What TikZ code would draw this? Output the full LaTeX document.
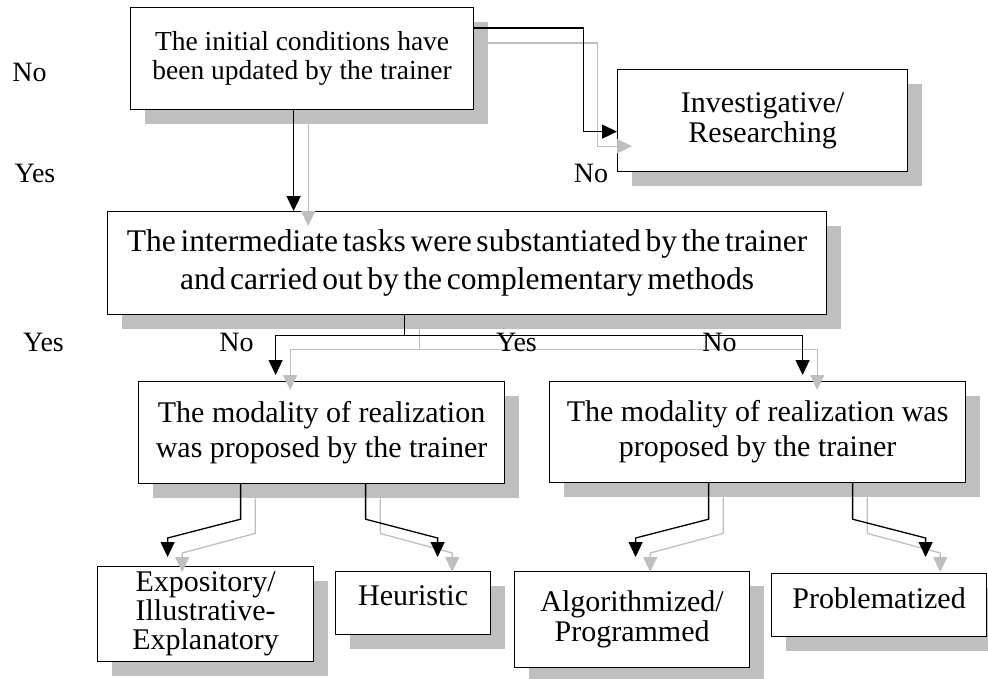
\documentclass[tikz,border=0pt]{standalone}
\usepackage{fontspec}
\setmainfont{Liberation Serif}
\newfontfamily\tightserif{Liberation Serif}[WordSpace=0.6]
\usetikzlibrary{arrows.meta,calc}
\definecolor{shgray}{RGB}{191,191,191}
\tikzset{
  box/.style={draw=black, fill=white, line width=1.2pt, inner sep=0pt, anchor=north west, align=center},
  shbox/.style={fill=shgray, draw=none, inner sep=0pt, anchor=north west},
  conn/.style={line width=1.3pt, draw=black},
  connarr/.style={conn, -{Triangle[width=14pt,length=15pt]}},
  gconn/.style={line width=1.3pt, draw=shgray},
  gconnarr/.style={gconn, -{Triangle[width=14pt,length=15pt]}},
  lbl/.style={font=\fontsize{28}{30}\selectfont, inner sep=0pt},
}
\newcommand\mkbox[7][]{%
  \node[shbox, minimum width={(#5-#3)*1pt}, minimum height={(#6-#4)*1pt}] (#2s) at (#3+15,#4+15) {};
  \node[box, minimum width={(#5-#3)*1pt}, minimum height={(#6-#4)*1pt}, #1] (#2) at (#3,#4) {#7};
}
\begin{document}
\begin{tikzpicture}[x=1pt,y=-1pt]
\useasboundingbox (0,0) rectangle (988,678);
% boxes with shadows
\mkbox[font=\fontsize{27.5}{29}\selectfont]{A}{130}{7}{473}{109}{The initial conditions have\\been updated by the trainer}
\mkbox[font=\fontsize{30}{30}\selectfont]{B}{617}{69}{907}{171}{Investigative/\\Researching}
\mkbox[font={\tightserif\fontsize{31.5}{38}\selectfont}]{C}{107}{211}{826}{314}{The intermediate tasks were substantiated by the trainer\\and carried out by the complementary methods}
\mkbox[font=\fontsize{30}{35}\selectfont]{D}{138}{381}{504}{483}{The modality of realization\\was proposed by the trainer}
\mkbox[font=\fontsize{30}{35}\selectfont]{E}{549}{381}{965}{482}{The modality of realization was\\proposed by the trainer}
\mkbox[font=\fontsize{30}{29}\selectfont]{F}{97}{566}{313}{661}{Expository/\\Illustrative-\\Explanatory}
\mkbox[font=\fontsize{30}{30}\selectfont, text depth=15pt]{G}{335}{571}{490}{634}{Heuristic}
\mkbox[font=\fontsize{30}{30}\selectfont]{H}{514}{571}{749}{667}{Algorithmized/\\Programmed}
\mkbox[font=\fontsize{30}{30}\selectfont, text depth=15pt]{I}{771}{573}{986}{636}{Problematized}

% gray (shadow) connectors
\draw[gconnarr] ([yshift=-21pt]As.north east) -- ++(109,0) |- ([yshift=-11pt]Bs.west);
\draw[gconnarr] ([xshift=-8.5pt]As.south) -- ([xshift=-8.5pt]As.south |- Cs.north);
\coordinate (gj) at ([xshift=-62.5pt,yshift=-20pt]Cs.south);
\draw[gconn] ([xshift=-62.5pt]Cs.south) -- (gj);
\draw[gconnarr] (gj) -| ([xshift=-46pt,yshift=6pt]Ds.north);
\draw[gconnarr] (gj) -| ([xshift=45pt,yshift=6pt]Es.north);
\draw[gconnarr] ([xshift=-81pt]Ds.south) -- ++(0,35) -- ([xshift=-38pt,yshift=28pt]Fs.north) -- ([xshift=-38pt,yshift=9pt]Fs.north);
\draw[gconnarr] ([xshift=44pt]Ds.south) -- ++(0,35) -- ([xshift=24.5pt,yshift=33pt]Gs.north) -- ([xshift=24.5pt,yshift=14pt]Gs.north);
\draw[gconnarr] ([xshift=-49pt]Es.south) -- ++(0,36) -- ([xshift=3.5pt,yshift=33pt]Hs.north) -- ([xshift=3.5pt,yshift=14pt]Hs.north);
\draw[gconnarr] ([xshift=95pt]Es.south) -- ++(0,36) -- ([xshift=46.5pt,yshift=35pt]Is.north) -- ([xshift=46.5pt,yshift=16pt]Is.north);

% black connectors
\draw[connarr] ([yshift=-21pt]A.north east) -- ++(109,0) |- ([yshift=-11pt]B.west);
\draw[connarr] ([xshift=-8.5pt]A.south) -- ([xshift=-8.5pt]A.south |- C.north);
\coordinate (bj) at ([xshift=-62.5pt,yshift=-20pt]C.south);
\draw[conn] ([xshift=-62.5pt]C.south) -- (bj);
\draw[connarr] (bj) -| ([xshift=-46pt,yshift=6pt]D.north);
\draw[connarr] (bj) -| ([xshift=45pt,yshift=6pt]E.north);
\draw[connarr] ([xshift=-81pt]D.south) -- ++(0,35) -- ([xshift=-38pt,yshift=28pt]F.north) -- ([xshift=-38pt,yshift=9pt]F.north);
\draw[connarr] ([xshift=44pt]D.south) -- ++(0,35) -- ([xshift=24.5pt,yshift=33pt]G.north) -- ([xshift=24.5pt,yshift=14pt]G.north);
\draw[connarr] ([xshift=-49pt]E.south) -- ++(0,36) -- ([xshift=3.5pt,yshift=33pt]H.north) -- ([xshift=3.5pt,yshift=14pt]H.north);
\draw[connarr] ([xshift=95pt]E.south) -- ++(0,36) -- ([xshift=46.5pt,yshift=35pt]I.north) -- ([xshift=46.5pt,yshift=16pt]I.north);

% labels
\node[lbl] (l1) at (29.5,72) {No};
\node[lbl] (l2) at (35,173) {Yes};
\node[lbl] (l3) at (591,173) {No};
\node[lbl] (l4) at (43.5,342) {Yes};
\node[lbl] (l5) at (236.5,342) {No};
\node[lbl] (l6) at (516.5,342) {Yes};
\node[lbl] (l7) at (719.5,342) {No};
\end{tikzpicture}
\end{document}
